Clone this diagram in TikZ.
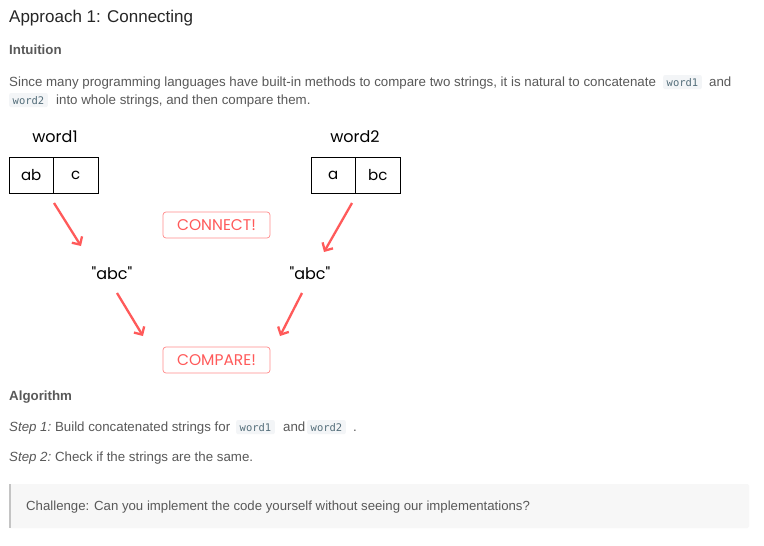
\documentclass[tikz,border=0pt]{standalone}
\usepackage{fontspec}
\setmainfont{Liberation Sans}
\setmonofont{DejaVu Sans Mono}
\newfontfamily\sketchfont{Poppins}
\usetikzlibrary{positioning, arrows.meta}

\definecolor{titlegray}{HTML}{262626}
\definecolor{txtgray}{HTML}{595959}
\definecolor{codefg}{HTML}{546E7A}
\definecolor{codebg}{HTML}{F3F5F7}
\definecolor{sketchred}{HTML}{FF5A5A}
\definecolor{notebg}{HTML}{F7F7F7}
\definecolor{notebar}{HTML}{C4C4C4}

\begin{document}
\begin{tikzpicture}[x=1pt, y=-1pt,
  txt/.style={anchor=base west, inner sep=0pt, text=txtgray, font=\fontsize{13.3}{15}\selectfont},
  head/.style={txt, font=\bfseries\fontsize{13.3}{15}\selectfont},
  code/.style={anchor=base west, fill=codebg, rounded corners=2pt, text=codefg, inner xsep=3.5pt, inner ysep=3pt, font=\ttfamily\fontsize{10.5}{12}\selectfont},
  cell/.style={draw, line width=0.8pt, outer sep=0pt, minimum width=44.5pt, minimum height=36pt, inner sep=0pt, font=\sketchfont\fontsize{15}{18}\selectfont},
  word/.style={font=\sketchfont\fontsize{16}{19}\selectfont},
  stamp/.style={draw=sketchred!70, line width=0.7pt, rounded corners=3pt, text=sketchred, minimum width=107pt, minimum height=26pt, font=\sketchfont\fontsize{15.5}{18}\selectfont},
  redarrow/.style={sketchred, line width=2.3pt, -{Straight Barb[length=6pt, width=12pt]}}]
  \useasboundingbox[fill=white] (0,0) rectangle (764,546);

  % heading and intuition
  \node[anchor=base west, inner sep=0pt, text=titlegray, font=\fontsize{17}{20}\selectfont] (title) at (9,23) {Approach 1: Connecting};
  \node[head] (intu) at (9,54) {Intuition};
  \node[txt] (par1) at (9,86) {Since many programming languages have built-in methods to compare two strings, it is natural to concatenate};
  \node[code] (cw1) at (663,86) {word1};
  \node[txt] (par1b) at (709,86) {and};
  \node[code] (cw2) at (9,104) {word2};
  \node[txt] (par2) at (56,104) {into whole strings, and then compare them.};

  % the two words
  \node[word] (w1) at (55,137) {word1};
  \node[cell] (w1a) at (31.25,175) {ab};
  \node[cell, right=0pt of w1a] (w1b) {c};
  \node[word] (w2) at (355,137) {word2};
  \node[cell] (w2a) at (333.25,175) {a};
  \node[cell, right=0pt of w2a] (w2b) {bc};

  \node[stamp] (conn) at (216.5,225) {CONNECT!};
  \node[word] (s1) at (112,273) {"abc"};
  \node[word] (s2) at (310,273) {"abc"};
  \node[stamp] (comp) at (216.5,360) {COMPARE!};

  \coordinate (p1) at (54,203);  \coordinate (q1) at (81,246);
  \coordinate (p2) at (352,203); \coordinate (q2) at (324,252);
  \coordinate (p3) at (117,293); \coordinate (q3) at (143,336);
  \coordinate (p4) at (302,293); \coordinate (q4) at (280,336);
  \draw[redarrow] (p1) -- (q1);
  \draw[redarrow] (p2) -- (q2);
  \draw[redarrow] (p3) -- (q3);
  \draw[redarrow] (p4) -- (q4);

  % algorithm
  \node[head] (algo) at (9,400) {Algorithm};
  \node[txt] (st1) at (9,431) {\itshape Step 1:\upshape\ Build concatenated strings for};
  \node[code] (cw3) at (236,431) {word1};
  \node[txt] (st1b) at (283,431) {and};
  \node[code] (cw4) at (307,431) {word2};
  \node[txt] (st1c) at (353,431) {.};
  \node[txt] (st2) at (9,461) {\itshape Step 2:\upshape\ Check if the strings are the same.};

  % challenge note
  \fill[notebg, rounded corners=2pt] (9,484) rectangle (749,528);
  \fill[notebar] (9,484) rectangle (11,528);
  \node[txt, font=\fontsize{13.2}{15}\selectfont] (chal) at (26,510) {Challenge: Can you implement the code yourself without seeing our implementations?};
\end{tikzpicture}
\end{document}
